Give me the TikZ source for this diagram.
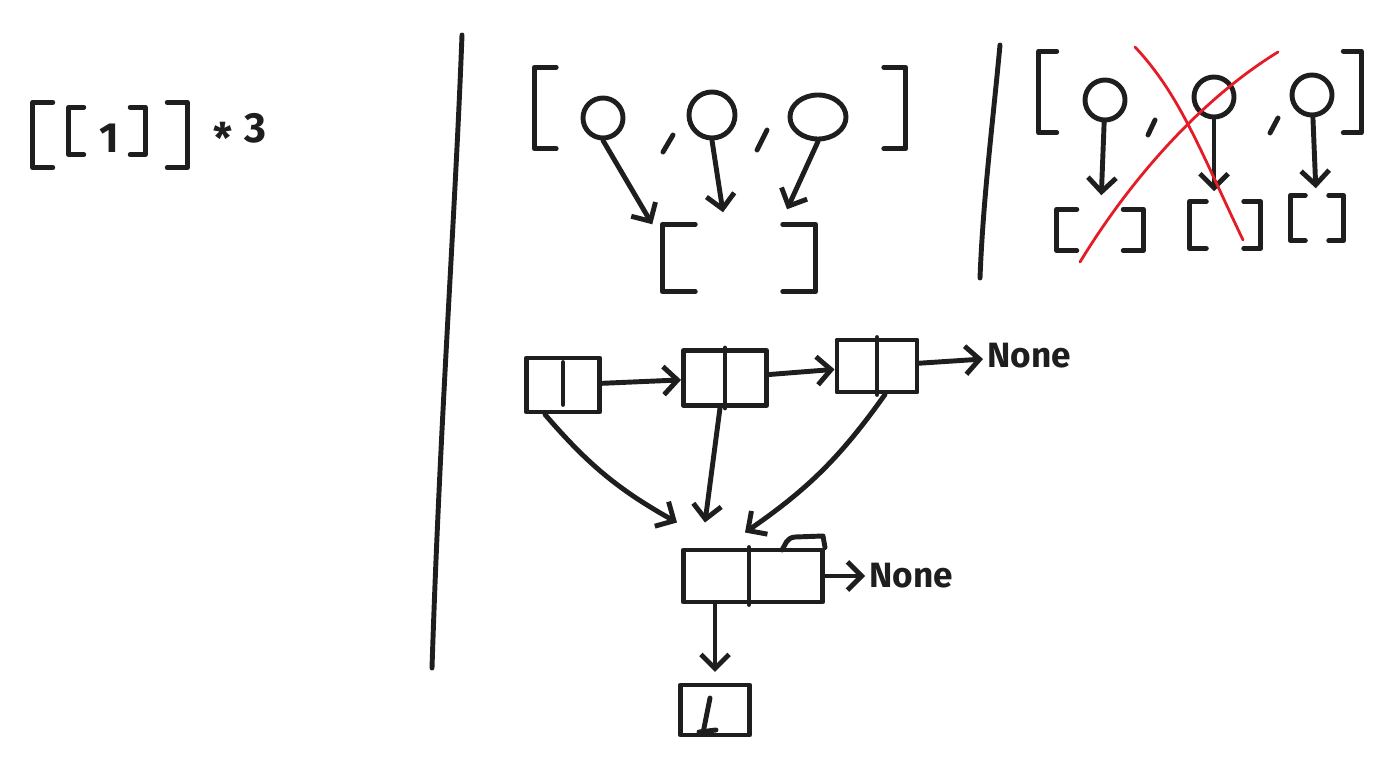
\documentclass[tikz,border=0pt]{standalone}
\usepackage{fontspec}
\setmainfont{Fira Sans}
\usetikzlibrary{shapes.geometric,arrows.meta,positioning}

\definecolor{ink}{RGB}{30,30,30}
\definecolor{redink}{RGB}{228,28,40}

% square brackets drawn round a (blank) list node: #1 node name, #2 arm length
\newcommand{\listbrackets}[2]{%
  \draw[pen] ([xshift=#2]#1.north west) -- (#1.north west) -- (#1.south west) -- ([xshift=#2]#1.south west);
  \draw[pen] ([xshift=-#2]#1.north east) -- (#1.north east) -- (#1.south east) -- ([xshift=-#2]#1.south east);
}

\begin{document}
\begin{tikzpicture}[
      x=0.01cm, y=-0.01cm,
      pen/.style={line width=1.4pt, line cap=round, line join=round, draw=ink},
      redpen/.style={line width=0.8pt, line cap=round, draw=redink},
      arr/.style={pen, -{Straight Barb[length=4pt,width=8pt]}},
      lst/.style={rectangle, inner sep=0pt},
      ball/.style={circle, pen, draw, minimum size=0.40cm, inner sep=0pt},
      cell/.style={rectangle, pen, draw, inner sep=0pt},
      hand/.style={text=ink, font=\bfseries\fontsize{10}{12}\selectfont, inner sep=1pt}
  ]
      \useasboundingbox (0,0) rectangle (1391,767);

      % [[1]] * 3
      \node (outerA) [lst, minimum width=1.53cm, minimum height=0.64cm] at (110,135) {};
      \node (innerA) [lst, minimum width=0.75cm, minimum height=0.46cm] at (107,131) {};
      \node (one) [hand, font=\bfseries\fontsize{12}{14}\selectfont] at (109,138) {1};
      \node (times) [hand, font=\bfseries\fontsize{12}{14}\selectfont] at (240,128) {\raisebox{-0.5ex}[0pt][0pt]{*}\hspace{0.12cm}3};
      \listbrackets{outerA}{0.2cm}
      \listbrackets{innerA}{0.15cm}

      % dividers
      \draw[pen] (462,35) .. controls (455,220) and (440,420) .. (432,668);
      \draw[pen] (1000,45) .. controls (992,130) and (983,200) .. (980,278);

      % shared list
      \node (outerB) [lst, minimum width=3.70cm, minimum height=0.80cm] at (720,108) {};
      \node (c1) [ball] at (603,118) {};
      \node (c2) [ball, minimum size=0.46cm] at (712,115) {};
      \node (c3) [ellipse, pen, draw, minimum width=0.56cm, minimum height=0.44cm, inner sep=0pt] at (818,117) {};
      \node (lstB) [lst, minimum width=1.52cm, minimum height=0.66cm] at (739,258) {};
      \listbrackets{outerB}{0.22cm}
      \listbrackets{lstB}{0.33cm}
      \draw[pen] (673,135) -- (663,152);
      \draw[pen] (767,130) -- (757,150);
      \draw[arr] (c1.south) -- ([xshift=-0.1cm]lstB.north west);
      \draw[arr] (c2.south) -- ([xshift=-0.16cm,yshift=0.12cm]lstB.north);
      \draw[arr] (c3.south) -- ([xshift=0.48cm,yshift=0.15cm]lstB.north);

      % separate lists
      \node (outerC) [lst, minimum width=3.21cm, minimum height=0.80cm] at (1200,92) {};
      \node (d1) [ball] at (1105,100) {};
      \node (d2) [ball] at (1214,97) {};
      \node (d3) [ball] at (1312,95) {};
      \node (e1) [lst, minimum width=0.85cm, minimum height=0.40cm] at (1100,230) {};
      \node (e2) [lst, minimum width=0.70cm, minimum height=0.45cm] at (1225,225) {};
      \node (e3) [lst, minimum width=0.52cm, minimum height=0.44cm] at (1317,218) {};
      \listbrackets{outerC}{0.18cm}
      \listbrackets{e1}{0.2cm}
      \listbrackets{e2}{0.17cm}
      \listbrackets{e3}{0.15cm}
      \draw[pen] (1155,120) -- (1148,135);
      \draw[pen] (1278,118) -- (1270,133);
      \draw[arr, shorten >=4pt] (d1) -- (e1);
      \draw[arr, shorten >=3pt] (d2) -- (d2 |- e2.north);
      \draw[arr, shorten >=2pt] (d3) -- (e3);
      \draw[redpen] (1135,47) .. controls (1180,95) and (1200,150) .. (1243,240);
      \draw[redpen] (1278,52) .. controls (1200,100) and (1130,180) .. (1080,262);

      % linked nodes
      \node (b1) [cell, minimum width=0.73cm, minimum height=0.54cm] at (563,385) {};
      \node (b2) [cell, minimum width=0.83cm, minimum height=0.55cm] at (725,378) {};
      \node (b3) [cell, minimum width=0.80cm, minimum height=0.52cm] at (877,366) {};
      \node (none1) [hand, anchor=west] at (983,356) {None};
      \node (big) [cell, minimum width=1.39cm, minimum height=0.52cm] at (753,576) {};
      \node (none2) [hand, right=0.4cm of big] {None};
      \node (leaf) [cell, minimum width=0.69cm, minimum height=0.50cm] at (715,710) {};
      \draw[pen] ([yshift=-0.07cm]b1.north) -- ([yshift=0.1cm]b1.south);
      \draw[pen] (b2.north) -- (b2.south);
      \draw[pen] (b3.north) -- (b3.south);
      \draw[pen] ([xshift=-0.04cm]big.north) -- ([xshift=-0.04cm]big.south);
      \draw[pen] (782,550) .. controls (786,544) and (786,538) .. (795,537) -- (823,536) -- (big.north east);
      \draw[pen] (710,698) -- (703,733);
      \draw[pen] (699,732) -- (716,730);

      \draw[arr] (b1) -- (b2);
      \draw[arr] (b2) -- (b3);
      \draw[arr] (b3) -- (none1);
      \draw[arr] ([xshift=-0.18cm]b1.south) to[bend right=10] ([xshift=-0.04cm,yshift=0.25cm]big.north west);
      \draw[arr] ([xshift=-0.05cm]b2.south) -- ([xshift=-0.48cm,yshift=0.25cm]big.north);
      \draw[arr] ([xshift=0.08cm]b3.south) to[bend left=10] ([xshift=-0.08cm,yshift=0.15cm]big.north);
      \draw[arr] (big) -- (none2);
      \draw[arr, shorten >=3pt] (leaf.north |- big.south) -- (leaf.north);
  \end{tikzpicture}
\end{document}
